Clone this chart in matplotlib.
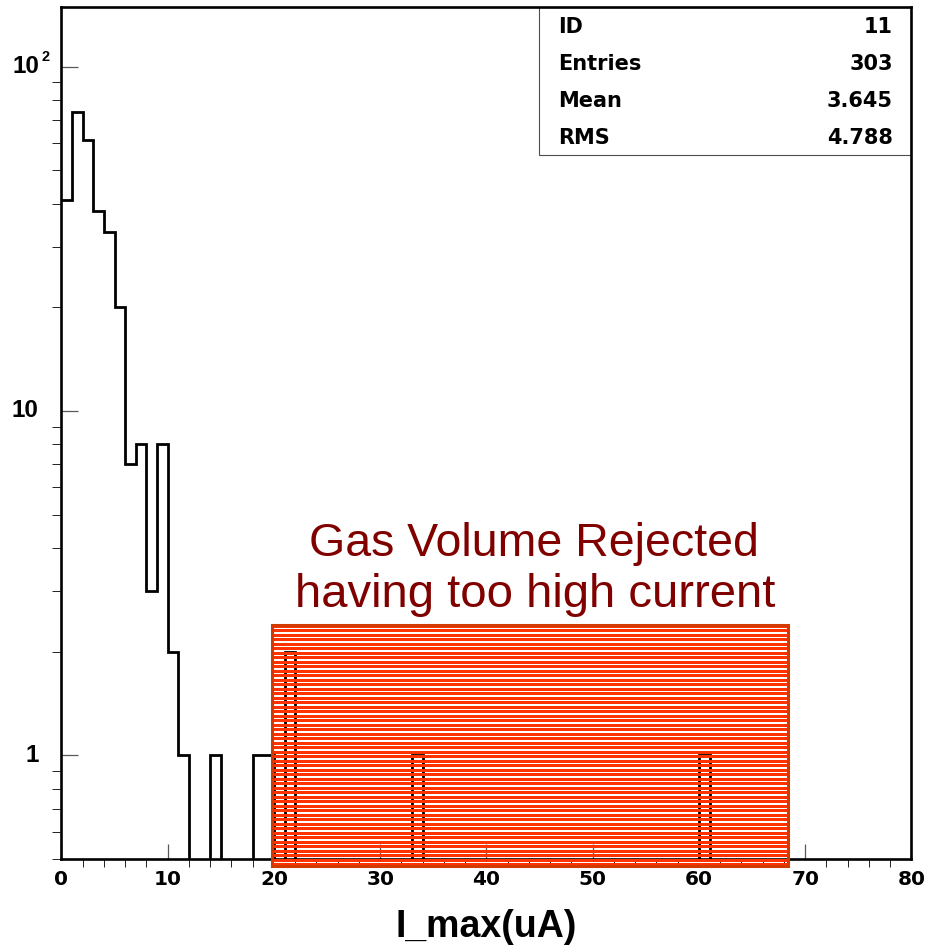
import numpy as np
import matplotlib

matplotlib.use("Agg")
import matplotlib.pyplot as plt
from matplotlib.patches import Rectangle
from matplotlib.collections import PatchCollection
from matplotlib.ticker import FixedLocator, MultipleLocator, NullFormatter, LogLocator
from matplotlib.transforms import blended_transform_factory

# I_max histogram, 1 uA bins from 0 to 80; only the filled bins are listed
filled_bins = [0, 1, 2, 3, 4, 5, 6, 7, 8, 9, 10, 11, 14, 18, 19, 21, 33, 60]
filled_counts = [41, 74, 61, 38, 33, 20, 7, 8, 3, 8, 2, 1, 1, 1, 1, 2, 1, 1]
bin_edges = np.arange(0, 81)

stat_names = ["ID", "Entries", "Mean", "RMS"]
stat_values = ["11", "303", "3.645", "4.788"]

ytick_vals = [1, 10, 100]
ytick_text = ["1", "10", "10"]

counts = np.zeros(len(bin_edges) - 1)
counts[filled_bins] = filled_counts
# empty bins drop to the floor of the log axis
drawn = np.where(counts > 0, counts, 1e-3)

BOLD = "Liberation Sans"
WIDE = "DejaVu Sans"
RED_FILL, RED_EDGE, TEXT_RED = "#FF3300", "#D23A00", "#800000"

fig = plt.figure(figsize=(9.27, 9.48), dpi=100)
ax = fig.add_axes([0.0663, 0.0939, 0.9169, 0.8984])

ax.stairs(drawn, bin_edges, baseline=None, color="black", lw=2.0, zorder=2)

ax.set_yscale("log")
ax.set_xlim(0, 80)
ax.set_ylim(0.5, 148.6)

for sp in ax.spines.values():
    sp.set_linewidth(1.9)

ax.xaxis.set_major_locator(MultipleLocator(10))
ax.xaxis.set_minor_locator(MultipleLocator(2))
ax.yaxis.set_major_locator(FixedLocator(ytick_vals))
ax.yaxis.set_minor_locator(LogLocator(base=10, subs=np.arange(2, 10)))
ax.yaxis.set_major_formatter(NullFormatter())
ax.yaxis.set_minor_formatter(NullFormatter())
ax.tick_params(direction="in", top=False, right=False, color="0.35", width=0.9)
ax.tick_params(axis="x", which="major", length=10.8, pad=8, labelsize=14.5)
ax.tick_params(axis="x", which="minor", length=5.8)
ax.tick_params(axis="y", which="major", length=12.2)
ax.tick_params(axis="y", which="minor", length=6.5)
for lab in ax.get_xticklabels():
    lab.set_fontfamily(WIDE)
    lab.set_fontweight("bold")

# y labels drawn by hand: ROOT-style "10 2" exponent sits apart from the mantissa
ylab_tr = blended_transform_factory(ax.transAxes, ax.transData)
for v, t in zip(ytick_vals, ytick_text):
    if v == 100:
        ax.annotate(t, xy=(0, v), xycoords=ylab_tr, xytext=(-48.5, 0),
                    textcoords="offset pixels", ha="left", va="center",
                    fontsize=17.5, fontweight="bold", family=BOLD)
        ax.annotate("2", xy=(0, v), xycoords=ylab_tr, xytext=(-11.5, 10),
                    textcoords="offset pixels", ha="right", va="center",
                    fontsize=10.5, fontweight="bold", family=BOLD)
    else:
        ax.annotate(t, xy=(0, v), xycoords=ylab_tr, xytext=(-23, 0),
                    textcoords="offset pixels", ha="right", va="center",
                    fontsize=17.5, fontweight="bold", family=BOLD)

ax.set_xlabel("I_max(uA)", fontsize=27, fontweight="bold", family=BOLD, labelpad=14)

# statistics box in the top right corner
ax.add_patch(Rectangle((0.5618, 0.8266), 1 - 0.5618, 1 - 0.8266, transform=ax.transAxes,
                       facecolor="white", edgecolor="0.3", lw=0.8, zorder=1.5))
row_y = [0.9769, 0.9334, 0.8900, 0.8465]
for name, val, y in zip(stat_names, stat_values, row_y):
    ax.text(0.584, y, name, transform=ax.transAxes, ha="left", va="center",
            fontsize=15, fontweight="bold", family=WIDE)
    ax.text(0.978, y, val, transform=ax.transAxes, ha="right", va="center",
            fontsize=15, fontweight="bold", family=WIDE)

# striped rejection region, x in data units, y in axes fraction
box_tr = blended_transform_factory(ax.transData, ax.transAxes)
bx0, bx1 = 19.85, 68.35
by0, by1 = -0.0088, 0.2753
period, gap = 4.5 / 851.7, 1.1 / 851.7
stripes = []
y = by1
while y > by0:
    h = min(period - gap, y - by0)
    stripes.append(Rectangle((bx0, y - h), bx1 - bx0, h))
    y -= period
ax.add_collection(PatchCollection(stripes, facecolor=RED_FILL, edgecolor="none",
                                  transform=box_tr, clip_on=False, zorder=5))
ax.add_patch(Rectangle((bx0, by0), bx1 - bx0, by1 - by0, transform=box_tr,
                       facecolor="none", edgecolor=RED_EDGE, lw=2.2,
                       clip_on=False, zorder=6))

fig.text(0.576, 0.4135, "Gas Volume Rejected", ha="center", va="baseline",
         fontsize=33.5, color=TEXT_RED, family=BOLD)
fig.text(0.577, 0.3597, "having too high current", ha="center", va="baseline",
         fontsize=34, color=TEXT_RED, family=BOLD)

fig.savefig("out.png", dpi=100)
